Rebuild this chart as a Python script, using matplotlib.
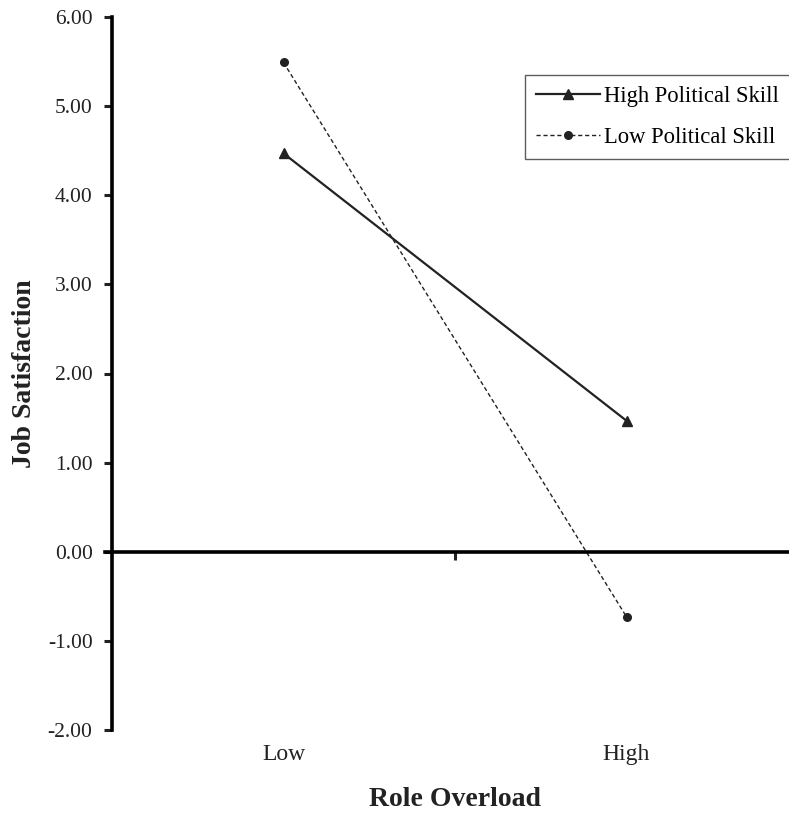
import matplotlib.pyplot as plt

# role overload levels and simple-slope values
categories = ["Low", "High"]
high_skill = [4.47, 1.47]
low_skill = [5.49, -0.73]
y_ticks = [-2, -1, 0, 1, 2, 3, 4, 5, 6]

plt.rcParams['font.family'] = ['Liberation Serif', 'DejaVu Serif']

fig = plt.figure(figsize=(7.89, 8.25), dpi=100)
W, H = 789.0, 825.0
# axes spans two category slots; right edge falls just outside the figure
ax = fig.add_axes([112 / W, 95 / H, 686 / W, 713 / H])

xs = [i + 0.5 for i in range(len(categories))]
ax.plot(xs, high_skill, color='#222222', lw=1.6, marker='^', ms=7,
        label='High Political Skill', clip_on=False)
ax.plot(xs, low_skill, color='#222222', lw=1.0, ls=(0, (3, 2)), marker='o',
        ms=5.5, label='Low Political Skill', clip_on=False)

ax.set_xlim(0, 2)
ax.set_ylim(-2, 6)
ax.set_yticks(y_ticks)
ax.set_yticklabels(['%.2f' % v for v in y_ticks], fontsize=15.5, color='#222222')

for s in ['top', 'right']:
    ax.spines[s].set_visible(False)
ax.spines['left'].set_linewidth(2.6)
ax.spines['bottom'].set_position(('data', 0))
ax.spines['bottom'].set_linewidth(2.6)
ax.spines['bottom'].set_bounds(-0.02, 2)
ax.set_xticks([1])
ax.set_xticklabels([''])
ax.tick_params(axis='both', direction='out', length=6, width=2.2, color='#222222')
ax.tick_params(axis='y', pad=8)

for x, c in zip(xs, categories):
    ax.text(x, -0.02, c, transform=ax.get_xaxis_transform(), ha='center',
            va='top', fontsize=17, color='#222222')

ax.set_ylabel('Job Satisfaction', fontsize=20, fontweight='bold', labelpad=8,
              color='#222222')
fig.text(455 / W, 1 - 800 / H, 'Role Overload', ha='center', va='center',
         fontsize=20, fontweight='bold', color='#222222')

leg = ax.legend(loc='upper left', bbox_to_anchor=(525 / W, 1 - 75 / H),
                bbox_transform=fig.transFigure, fontsize=16.3, frameon=True,
                fancybox=False, edgecolor='#333333', handlelength=2.8,
                handletextpad=0.2, borderpad=0.5, labelspacing=0.85,
                borderaxespad=0)
leg.get_frame().set_linewidth(1.0)

fig.savefig('out.png', dpi=100)
